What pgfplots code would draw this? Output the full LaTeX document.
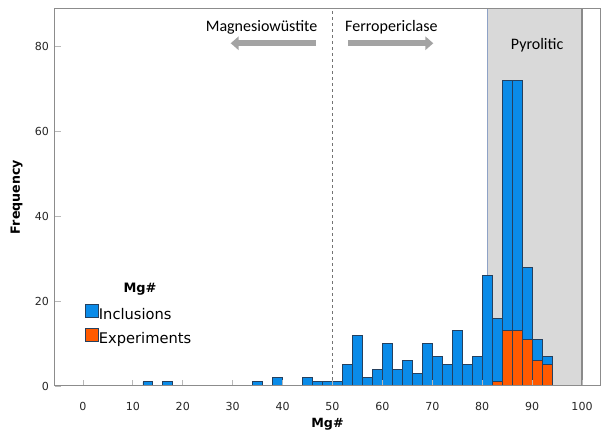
\documentclass[border=0pt]{standalone}
\usepackage{fontspec}
\setmainfont{DejaVu Sans}
\newfontfamily\calibri{Carlito}
\usepackage{pgfplots}
\usepackage{pgfplotstable}
\pgfplotsset{compat=1.18}
\usetikzlibrary{arrows.meta}

\definecolor{incl}{HTML}{0A8BE8}
\definecolor{expt}{HTML}{FF5A00}
\definecolor{baredge}{HTML}{25405E}
\definecolor{zone}{HTML}{D9D9D9}
\definecolor{zoneedge}{HTML}{8A8A8A}
\definecolor{zoneleft}{HTML}{8EA2C6}
\definecolor{arrowgray}{HTML}{A3A3A3}
\definecolor{framegray}{HTML}{8C8C8C}

% bin centre (2-unit bins), inclusions, experiments
\pgfplotstableread{
x  incl expt
13 1  0
17 1  0
35 1  0
39 2  0
45 2  0
47 1  0
49 1  0
51 1  0
53 5  0
55 12 0
57 2  0
59 4  0
61 10 0
63 4  0
65 6  0
67 3  0
69 10 0
71 7  0
73 5  0
75 13 0
77 5  0
79 7  0
81 26 0
83 15 1
85 59 13
87 59 13
89 17 11
91 5  6
93 2  5
}\mgdata

\begin{document}
\begin{tikzpicture}
\useasboundingbox (0,0) rectangle (450.75pt,327pt);
\begin{axis}[
    at={(41.25pt,37.5pt)}, anchor=south west,
    scale only axis,
    width=408.75pt, height=283.5pt,
    xmin=-5.6, xmax=103.6,
    ymin=0, ymax=89,
    ybar stacked,
    reverse stacked plots=false,
    bar width=2,
    xtick={0,10,...,100},
    ytick={0,20,...,80},
    tick align=inside,
    xtick pos=bottom, ytick pos=left,
    major tick length=4.5pt,
    tick style={color=black!28, line width=0.6pt},
    axis line style={framegray, line width=0.75pt},
    axis on top,
    /pgf/number format/assume math mode=true,
    ticklabel style={font=\fontsize{8.3}{10}\selectfont, color=black!85},
    xticklabel style={yshift=-8.5pt},
    yticklabel style={xshift=-1pt},
    xlabel={Mg\#},
    ylabel={Frequency},
    label style={font=\bfseries\fontsize{9.5}{11}\selectfont},
    xlabel style={at={(axis description cs:0.5,-0.1005)}, anchor=center},
    ylabel style={at={(axis description cs:-0.0703,0.5)}, anchor=center},
    reverse legend,
    legend cell align=left,
    legend image code/.code={\fill[#1] (0pt,-1.4pt) rectangle (9.75pt,8.35pt);},
    legend style={
        at={(0.055,0.217)}, anchor=north west,
        draw=none, fill=none, inner sep=0pt,
        font=\fontsize{11}{13}\selectfont,
        nodes={inner sep=0pt, text height=8pt, text depth=2pt},
        row sep=3.9pt,
        /tikz/every even column/.append style={column sep=2pt},
    },
]
% pyrolitic range
\fill[zone] (axis cs:81,0) rectangle (axis cs:100,89);
\draw[zoneedge, line width=0.9pt] (axis cs:81,89) -- (axis cs:100,89) -- (axis cs:100,0);
\draw[zoneleft, line width=0.9pt] (axis cs:81,0) -- (axis cs:81,89);
% Mg# = 50 divide
\draw[black!55, line width=0.5pt, dash pattern=on 2.5pt off 2pt] (axis cs:50,0) -- (axis cs:50,89);

\addplot[fill=expt, draw=baredge, line width=0.5pt] table[x=x, y=expt] {\mgdata};
\addlegendentry{Experiments}
\addplot[fill=incl, draw=baredge, line width=0.5pt] table[x=x, y=incl] {\mgdata};
\addlegendentry{Inclusions}

\draw[arrowgray, line width=4.5pt, -{Triangle[length=6pt, width=10pt]}]
    (axis cs:46.7,80.7) -- (axis cs:29.6,80.7);
\draw[arrowgray, line width=4.5pt, -{Triangle[length=6pt, width=10pt]}]
    (axis cs:53.1,80.7) -- (axis cs:70.2,80.7);
\node[font=\calibri\fontsize{12}{14}\selectfont] at (axis cs:35.8,84.5) {Magnesiowüstite};
\node[font=\calibri\fontsize{12}{14}\selectfont] at (axis cs:61.8,84.5) {Ferropericlase};
\node[font=\calibri\fontsize{12}{14}\selectfont] at (axis cs:91,80.3) {Pyrolitic};
\node[font=\bfseries\fontsize{9.7}{11}\selectfont] at (axis description cs:0.156,0.257) {Mg\#};
\end{axis}
\end{tikzpicture}
\end{document}
